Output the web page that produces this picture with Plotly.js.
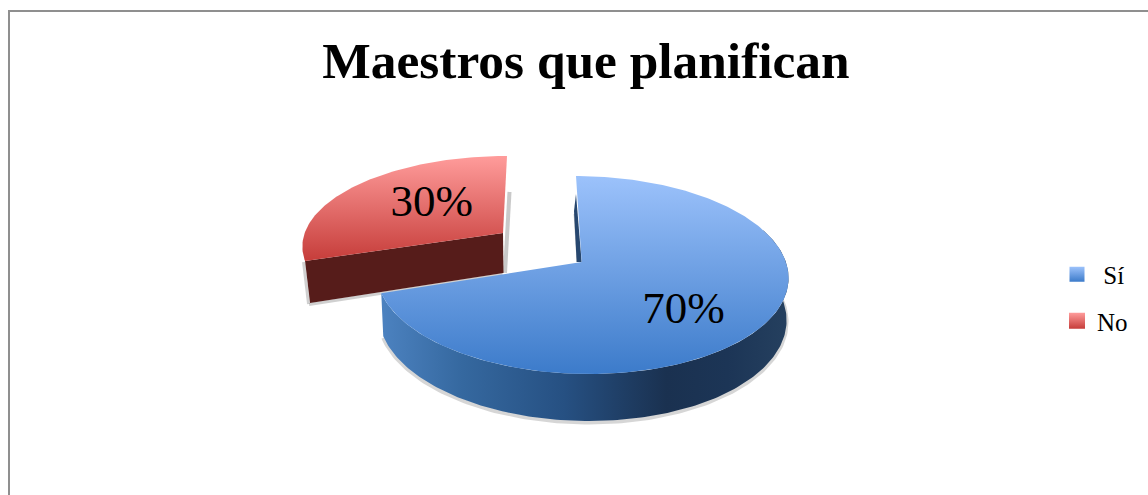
<!DOCTYPE html>
<html><head><meta charset="utf-8">
<script src="https://cdn.plot.ly/plotly-3.0.1.min.js"></script>
<style>html,body{margin:0;padding:0;background:#fff}#c{width:1148px;height:495px}</style></head>
<body><div id="c"></div>
<script>
const titleText = "Maestros que planifican";
const categories = ["Sí", "No"];
const legendNames = ["\u00a0Sí", "No"];
const values = [70, 30];

const WIDTH = 1148, HEIGHT = 495;
const FONT = '"Liberation Serif", serif';
// projected discs: centre, radii, shear, perspective
const blueTop  = {cx:582.5, cy:275, rx:206, ry:99,  k:6.5,  a:0.131};
const blueBase = {cx:582.5, cy:317, rx:204, ry:104, k:6.5,  a:0.131};
const redTop   = {cx:502.4, cy:244.5, rx:200, ry:88.6, k:-4.6, a:0.13};

function project(d, angleDeg, r) {
  const t = angleDeg * Math.PI / 180;
  const u = r * Math.sin(t), v = r * Math.cos(t);
  const den = 1 + d.a * v;
  const up = u * Math.sqrt(1 - d.a * d.a) / den;
  const vp = (v + d.a) / den;
  return [d.cx + d.rx * up - d.k * vp, d.cy - d.ry * vp];
}
function arc(d, from, to) {
  const pts = [], n = Math.max(2, Math.ceil(Math.abs(to - from)));
  for (let i = 0; i <= n; i++) pts.push(project(d, from + (to - from) * i / n, 1));
  return pts;
}
const xs = p => p.map(q => q[0]), ys = p => p.map(q => q[1]);
function shift(p, dx, dy) { return p.map(q => [q[0] + dx, q[1] + dy]); }
function poly(pts, extra) {
  const c = pts.concat([pts[0]]);
  return Object.assign({type:'scatter', mode:'lines', x:xs(c), y:ys(c), fill:'toself',
    line:{width:0}, hoverinfo:'skip', showlegend:false}, extra);
}
function stroke(pts, color, width) {
  return {type:'scatter', mode:'lines', x:xs(pts), y:ys(pts), line:{color:color, width:width},
    hoverinfo:'skip', showlegend:false};
}

const total = values.reduce((a, b) => a + b, 0);
const blueEnd = 360 * values[0] / total;
const blueMid = blueEnd / 2, redMid = (blueEnd + 360) / 2;

const faceV = (top, bottom) => ({type:'vertical', colorscale:[[0, bottom], [1, top]]});
const BLUE_TOP = '#9cc2fb', BLUE_BOT = '#3c7bca', RED_TOP = '#ff9c9b', RED_BOT = '#c63d3a';

const blueApex = project(blueTop, 0, 0);
const redApex = project(redTop, 0, 0);
const redLeft = project(redTop, blueEnd, 1);
const redLeftLow = [redLeft[0] + 5, redLeft[1] + 42];
const redApexLow = [redApex[0] + 0.5, redApex[1] + 40];

const blueStart = project(blueTop, 0, 1);
const baseArc = arc(blueBase, 70, blueEnd);
const blueLabel = project(blueTop, blueMid + 9, 0.626);
const redLabel = project(redTop, redMid + 9, 0.513);

const traces = [
  // soft shadows
  stroke(shift(baseArc, 0, 1.5), 'rgba(120,120,120,0.3)', 4),
  stroke(shift([[redApex[0] + 5, redApex[1] - 41], redApexLow], 1.5, 0), 'rgba(120,120,120,0.4)', 4),
  stroke(shift([redLeft, redLeftLow], -1.5, 1), 'rgba(120,120,120,0.35)', 3),
  stroke(shift([redLeftLow, redApexLow], -1, 1.5), 'rgba(120,120,120,0.35)', 3),
  // red slice
  poly([redLeft, redApex, redApexLow, redLeftLow], {fillcolor:'#561c1a'}),
  poly([redApex].concat(arc(redTop, blueEnd, 360)), {fillgradient:faceV(RED_TOP, RED_BOT), fillcolor:RED_TOP}),
  // blue inner wall sliver
  stroke([[blueApex[0] - 7, blueApex[1] - 48], [blueApex[0] - 4, blueApex[1]]], 'rgba(120,120,120,0.4)', 2),
  poly([[blueStart[0], blueStart[1] + 18], blueApex, [blueApex[0] - 5, blueApex[1]], [blueStart[0] - 2, blueStart[1] + 35]], {fillcolor:'#27476f'}),
  // blue slice
  poly(arc(blueTop, 70, blueEnd).concat(baseArc.slice().reverse()), {
    fillcolor:'#2a5a8f',
    fillgradient:{type:'horizontal', colorscale:[[0,'#4c82c0'],[0.2,'#35689f'],[0.45,'#265082'],[0.7,'#1a3150'],[0.85,'#1c3556'],[1,'#25405f']]}
  }),
  poly([blueApex].concat(arc(blueTop, 0, blueEnd)), {fillgradient:faceV(BLUE_TOP, BLUE_BOT), fillcolor:BLUE_TOP}),
  // percent labels
  {type:'scatter', mode:'text', hoverinfo:'skip', showlegend:false,
   x:[blueLabel[0] + 3, redLabel[0] - 4],
   y:[blueLabel[1] + 4, redLabel[1] + 2],
   text:values.map(v => v + '%'), textposition:'middle center',
   textfont:{family:FONT, size:45, color:'#000'}},
  // legend entries
  {type:'scatter', mode:'markers', x:[null], y:[null], name:legendNames[0], legendgroup:categories[0],
   marker:{symbol:'square', size:15, color:BLUE_TOP, line:{width:0}, gradient:{type:'vertical', color:BLUE_BOT}}},
  {type:'scatter', mode:'markers', x:[null], y:[null], name:legendNames[1], legendgroup:categories[1],
   marker:{symbol:'square', size:16, color:RED_TOP, line:{width:0}, gradient:{type:'vertical', color:RED_BOT}}}
];

const frameColor = '#8f8f8f';
const layout = {
  width:WIDTH, height:HEIGHT, margin:{l:0, r:0, t:0, b:0},
  paper_bgcolor:'#fff', plot_bgcolor:'#fff',
  font:{family:FONT, color:'#000'},
  title:{text:'<b>' + titleText + '</b>', font:{family:FONT, size:51.4, color:'#000'},
         x:586/WIDTH, xanchor:'center', y:1 - 60/HEIGHT, yanchor:'middle'},
  xaxis:{range:[0, WIDTH], visible:false, fixedrange:true},
  yaxis:{range:[HEIGHT, 0], visible:false, fixedrange:true},
  showlegend:true,
  legend:{x:1057/WIDTH, xanchor:'left', y:1 - 251.5/HEIGHT, yanchor:'top', bgcolor:'rgba(0,0,0,0)',
          font:{family:FONT, size:25, color:'#000'}, tracegroupgap:11, itemwidth:30, traceorder:'grouped'},
  shapes:[
    {type:'line', xref:'x', yref:'y', x0:9, x1:9, y0:10, y1:HEIGHT, line:{color:frameColor, width:2}},
    {type:'line', xref:'x', yref:'y', x0:8, x1:WIDTH, y0:11, y1:11, line:{color:frameColor, width:2}}
  ]
};
Plotly.newPlot('c', traces, layout, {displayModeBar:false, staticPlot:true});
</script></body></html>
